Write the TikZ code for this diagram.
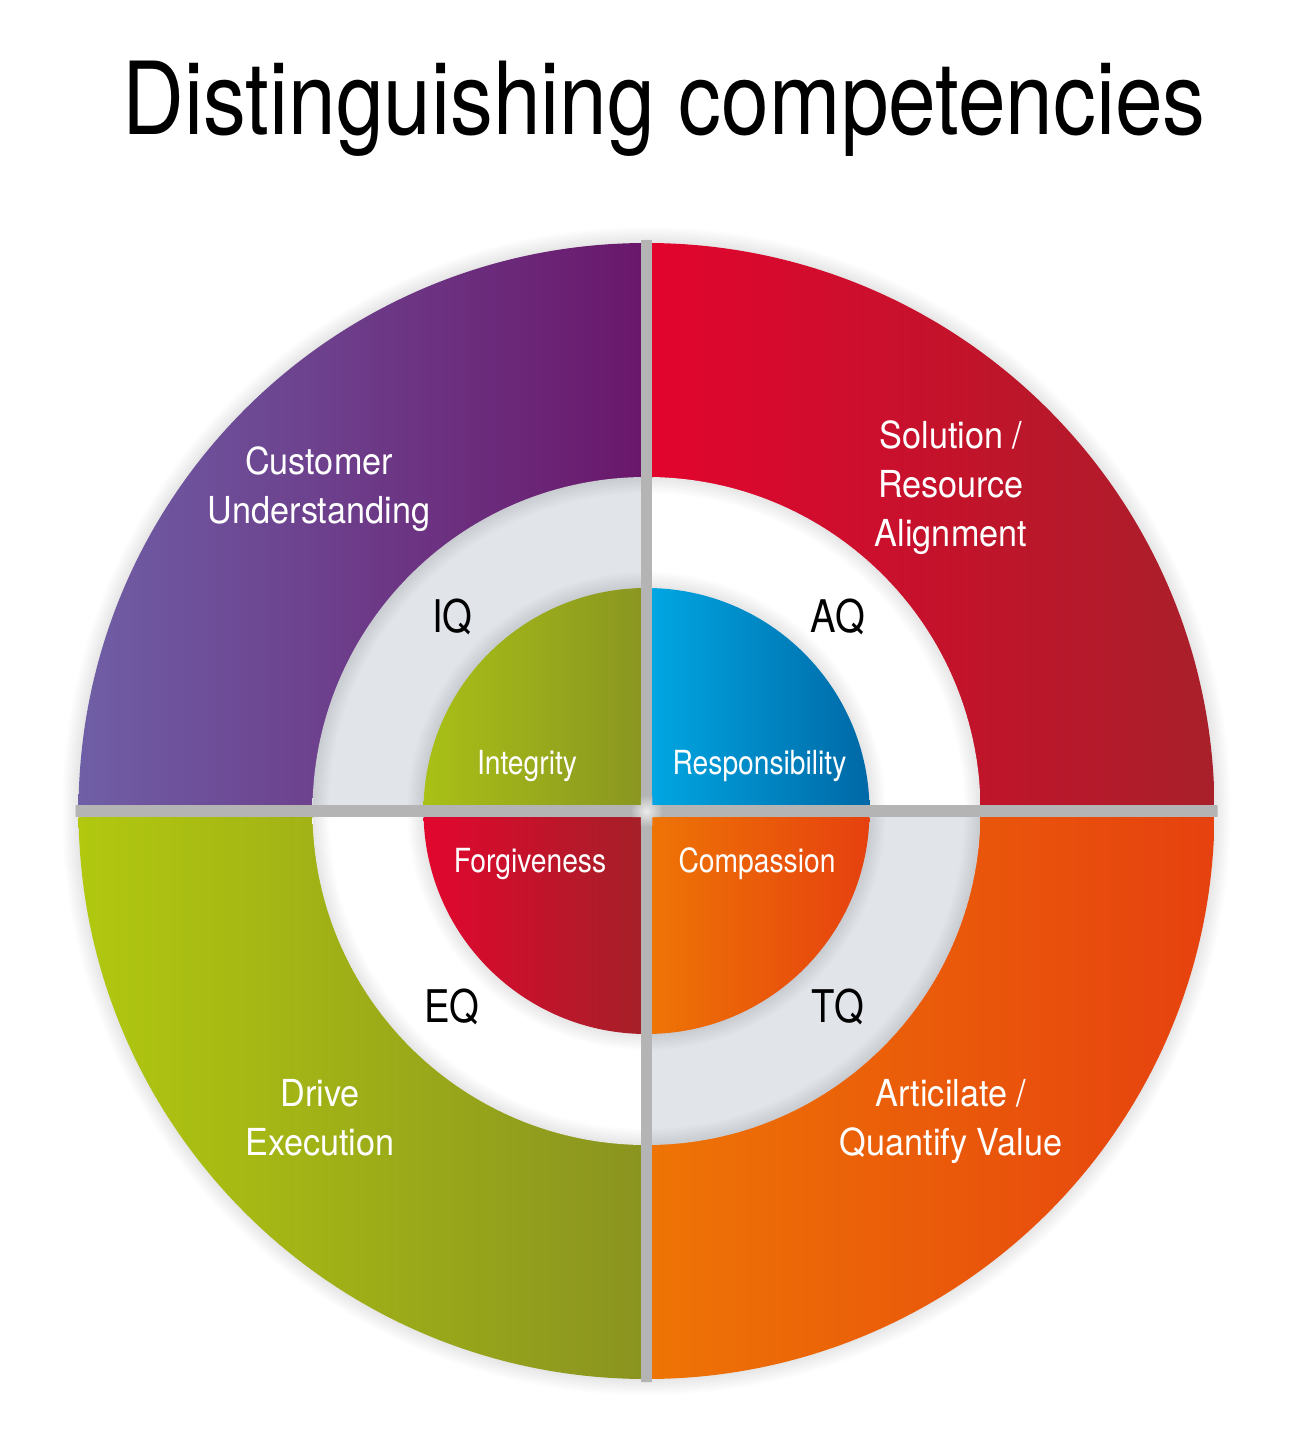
\documentclass[tikz,border=0pt]{standalone}
\usepackage{fontspec}
\setmainfont[FakeStretch=0.85]{TeX Gyre Heros}
\newfontfamily\lblfont[FakeStretch=0.92]{TeX Gyre Heros}
\definecolor{purL}{HTML}{6F5FA6}
\definecolor{purR}{HTML}{6A176B}
\definecolor{redL}{HTML}{E2042D}
\definecolor{redR}{HTML}{A8202A}
\definecolor{grnL}{HTML}{B1C80F}
\definecolor{grnR}{HTML}{8A9420}
\definecolor{orgL}{HTML}{EE7405}
\definecolor{orgR}{HTML}{E6410F}
\definecolor{igrL}{HTML}{A9C016}
\definecolor{igrR}{HTML}{8A9621}
\definecolor{bluL}{HTML}{00A6E2}
\definecolor{bluR}{HTML}{0068A6}
\definecolor{iredL}{HTML}{E2062E}
\definecolor{iredR}{HTML}{A52028}
\definecolor{midgray}{HTML}{E1E5EA}
\definecolor{gapcol}{HTML}{B4B4B4}
\def\cx{646.5}
\def\cy{811}
\def\gx{5.75}
\def\gy{6}
\newcommand\qfill[5]{%
  \begin{scope}
    \clip (\cx,\cy) circle (#1);
    \shade[left color=#4, right color=#5]
      ({\cx+(#2)*\gx},{\cy+(#3)*\gy}) rectangle ({\cx+(#2)*(#1)},{\cy+(#3)*(#1)});
  \end{scope}}
\tikzset{
  outlbl/.style={text=white, align=center, inner sep=0pt, anchor=base,
    font=\lblfont\fontsize{18.6}{24.5}\selectfont},
  inlbl/.style={text=white, inner sep=0pt, anchor=base,
    font=\fontsize{16.6}{20}\selectfont},
  qlbl/.style={text=black, inner sep=0pt, anchor=base,
    font=\fontsize{22.5}{26}\selectfont},
}
\begin{document}
\begin{tikzpicture}[x=0.5pt,y=-0.5pt]
\useasboundingbox (0,0) rectangle (1300,1438);
\fill[white] (0,0) rectangle (1300,1438);
% title
\node[inner sep=0pt, anchor=base, font=\fontsize{50.4}{56}\selectfont] (title) at (664,135) {Distinguishing competencies};
% outer halo
\foreach \k in {1,...,8} \fill[black, opacity=0.012] (\cx,\cy) circle ({568+\k*2});
% outer quadrants
\qfill{568}{-1}{-1}{purL}{purR}
\qfill{568}{1}{-1}{redL}{redR}
\qfill{568}{-1}{1}{grnL}{grnR}
\qfill{568}{1}{1}{orgL}{orgR}
% middle quadrants
\qfill{334}{-1}{-1}{midgray}{midgray}
\qfill{334}{1}{-1}{white}{white}
\qfill{334}{-1}{1}{white}{white}
\qfill{334}{1}{1}{midgray}{midgray}
% middle ring shadows
\begin{scope}
  \clip (\cx,\cy) circle (334);
  \foreach \k in {1,...,8}
    \fill[black, opacity=0.01, even odd rule] (\cx,\cy) circle (334) (\cx,\cy) circle ({334-\k*2});
  \foreach \k in {1,...,8}
    \fill[black, opacity=0.01] (\cx,\cy) circle ({223+\k*2});
\end{scope}
% inner quadrants
\qfill{223}{-1}{-1}{igrL}{igrR}
\qfill{223}{1}{-1}{bluL}{bluR}
\qfill{223}{-1}{1}{iredL}{iredR}
\qfill{223}{1}{1}{orgL}{orgR}
% gap cross
\begin{scope}
  \clip (\cx,\cy) circle (571);
  \fill[gapcol] ({\cx-\gx},{\cy-580}) rectangle ({\cx+\gx},{\cy+580});
  \fill[gapcol] ({\cx-580},{\cy-\gy}) rectangle ({\cx+580},{\cy+\gy});
\end{scope}
\begin{scope}
  \clip ({\cx-\gx},{\cy-30}) rectangle ({\cx+\gx},{\cy+30})
        ({\cx-30},{\cy-\gy}) rectangle ({\cx+30},{\cy+\gy});
  \shade[inner color=gray!15, outer color=gapcol] (\cx,\cy) circle (16);
\end{scope}
% outer labels (base = last line)
\node[outlbl] (cu) at (319,523) {Customer\\Understanding};
\node[outlbl] (sr) at (951,546) {Solution /\\Resource\\Alignment};
\node[outlbl] (de) at (320,1155) {Drive\\Execution};
\node[outlbl] (aq) at (951,1155) {Articilate /\\Quantify Value};
% quotient labels
\node[qlbl] (iq) at (452.5,632) {IQ};
\node[qlbl] (aqq) at (838,632) {AQ};
\node[qlbl] (eq) at (452,1022) {EQ};
\node[qlbl] (tq) at (838,1022) {TQ};
% inner labels
\node[inlbl] (integ) at (527,774) {Integrity};
\node[inlbl] (resp) at (759.5,774) {Responsibility};
\node[inlbl] (forg) at (530,872) {Forgiveness};
\node[inlbl] (comp) at (757,872) {Compassion};
\end{tikzpicture}
\end{document}
